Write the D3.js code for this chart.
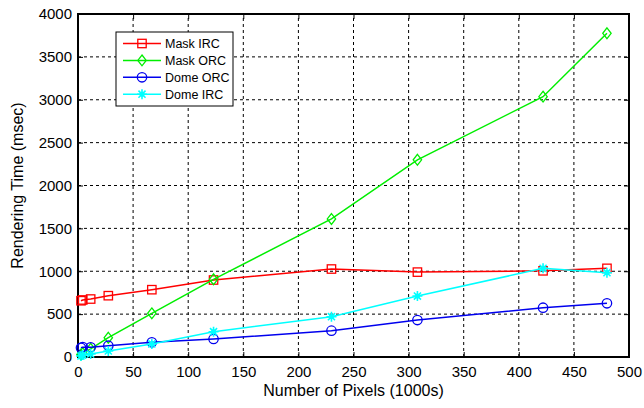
<!DOCTYPE html>
<html><head><meta charset="utf-8">
<script src="https://cdn.jsdelivr.net/npm/d3@7"></script>
<style>body{margin:0;background:#fff}svg{display:block}text{font-family:"Liberation Sans",Arial,sans-serif}</style>
</head><body>
<script>
const xVals = [2.7, 4.3, 11.5, 27.5, 67, 123, 230, 308, 422, 480];
const maskIRC = [656, 665, 676, 715, 785, 898, 1026, 990, 1005, 1034];
const maskORC = [30, 45, 95, 225, 509, 906, 1610, 2300, 3036, 3775];
const domeORC = [108, 115, 113, 132, 171, 210, 307, 431, 575, 626];
const domeIRC = [12, 23, 35, 70, 152, 295, 470, 711, 1034, 983];
const xTicks = [0, 50, 100, 150, 200, 250, 300, 350, 400, 450, 500];
const yTicks = [0, 500, 1000, 1500, 2000, 2500, 3000, 3500, 4000];
const series = [
  {name: "Mask IRC", values: maskIRC, color: "#ff0000", marker: "square"},
  {name: "Mask ORC", values: maskORC, color: "#00ee00", marker: "diamond"},
  {name: "Dome ORC", values: domeORC, color: "#0000ee", marker: "circle"},
  {name: "Dome IRC", values: domeIRC, color: "#00ffff", marker: "star"}
];

const W = 644, H = 408;
const m = {left: 78, right: 15, top: 14, bottom: 51};
const svg = d3.select("body").append("svg").attr("width", W).attr("height", H);
const x = d3.scaleLinear().domain([0, 500]).range([m.left, W - m.right]);
const y = d3.scaleLinear().domain([0, 4000]).range([H - m.bottom, m.top]);

// grid
const g = svg.append("g");
g.selectAll(".gx").data(xTicks.slice(1, -1)).join("line")
  .attr("x1", d => x(d)).attr("x2", d => x(d)).attr("y1", y(0)).attr("y2", y(4000))
  .attr("stroke", "#000").attr("stroke-width", 1).attr("stroke-dasharray", "3,3");
g.selectAll(".gy").data(yTicks.slice(1, -1)).join("line")
  .attr("y1", d => y(d)).attr("y2", d => y(d)).attr("x1", x(0)).attr("x2", x(500))
  .attr("stroke", "#000").attr("stroke-width", 1).attr("stroke-dasharray", "3,3");

// axes
svg.append("g").attr("transform", `translate(0,${y(0)})`)
  .call(d3.axisBottom(x).tickValues(xTicks).tickSize(-5).tickPadding(9));
svg.append("g").attr("transform", `translate(${x(0)},0)`)
  .call(d3.axisLeft(y).tickValues(yTicks).tickSize(-5).tickPadding(6).tickFormat(d3.format("d")));
svg.append("g").attr("transform", `translate(0,${y(4000)})`)
  .call(d3.axisTop(x).tickValues(xTicks).tickSize(-5).tickFormat(""));
svg.append("g").attr("transform", `translate(${x(500)},0)`)
  .call(d3.axisRight(y).tickValues(yTicks).tickSize(-5).tickFormat(""));
svg.selectAll(".domain").remove();
svg.selectAll(".tick line").attr("stroke", "#000");
svg.selectAll(".tick text").attr("font-size", 15).attr("fill", "#000")
  .attr("font-family", "'Liberation Sans', Arial, sans-serif");
svg.append("rect").attr("x", x(0)).attr("y", y(4000)).attr("width", x(500) - x(0)).attr("height", y(0) - y(4000))
  .attr("fill", "none").attr("stroke", "#000").attr("stroke-width", 2);

function drawMarker(sel, type, color) {
  const s = 4.2;
  if (type === "square") {
    sel.append("rect").attr("x", -s).attr("y", -s).attr("width", 2*s).attr("height", 2*s)
      .attr("fill", "none").attr("stroke", color).attr("stroke-width", 1.3);
  } else if (type === "diamond") {
    sel.append("path").attr("d", `M0,${-s-1.2}L${s},0L0,${s+1.2}L${-s},0Z`)
      .attr("fill", "none").attr("stroke", color).attr("stroke-width", 1.3);
  } else if (type === "circle") {
    sel.append("circle").attr("r", s + 0.5).attr("fill", "none").attr("stroke", color).attr("stroke-width", 1.3);
  } else {
    const r = 5;
    let p = "";
    for (let i = 0; i < 4; i++) {
      const a = i * Math.PI / 4;
      p += `M${r*Math.cos(a)},${r*Math.sin(a)}L${-r*Math.cos(a)},${-r*Math.sin(a)}`;
    }
    sel.append("path").attr("d", p).attr("stroke", color).attr("stroke-width", 1.6);
    sel.append("circle").attr("r", 2.5).attr("fill", color);
  }
}

const line = d3.line().x((d, i) => x(xVals[i])).y(d => y(d));
series.forEach(s => {
  svg.append("path").datum(s.values).attr("d", line)
    .attr("fill", "none").attr("stroke", s.color).attr("stroke-width", 1.5);
  s.values.forEach((v, i) => {
    const mk = svg.append("g").attr("transform", `translate(${x(xVals[i])},${y(v)})`);
    drawMarker(mk, s.marker, s.color);
  });
});

// legend
const lg = svg.append("g");
lg.append("rect").attr("x", 116).attr("y", 32).attr("width", 117).attr("height", 74)
  .attr("fill", "#fff").attr("stroke", "#000").attr("stroke-width", 1);
series.forEach((s, i) => {
  const yy = 43.5 + i * 16.9;
  lg.append("line").attr("x1", 123).attr("x2", 161).attr("y1", yy).attr("y2", yy)
    .attr("stroke", s.color).attr("stroke-width", 1.5);
  drawMarker(lg.append("g").attr("transform", `translate(142,${yy})`), s.marker, s.color);
  lg.append("text").attr("x", 165).attr("y", yy + 4.5).attr("font-size", 12.5).text(s.name);
});

svg.append("text").attr("x", x(250)).attr("y", 396).attr("text-anchor", "middle")
  .attr("font-size", 16).text("Number of Pixels (1000s)");
svg.append("text").attr("transform", `translate(23,${(y(0)+y(4000))/2}) rotate(-90)`)
  .attr("text-anchor", "middle").attr("font-size", 16).text("Rendering Time (msec)");
</script>
</body></html>
